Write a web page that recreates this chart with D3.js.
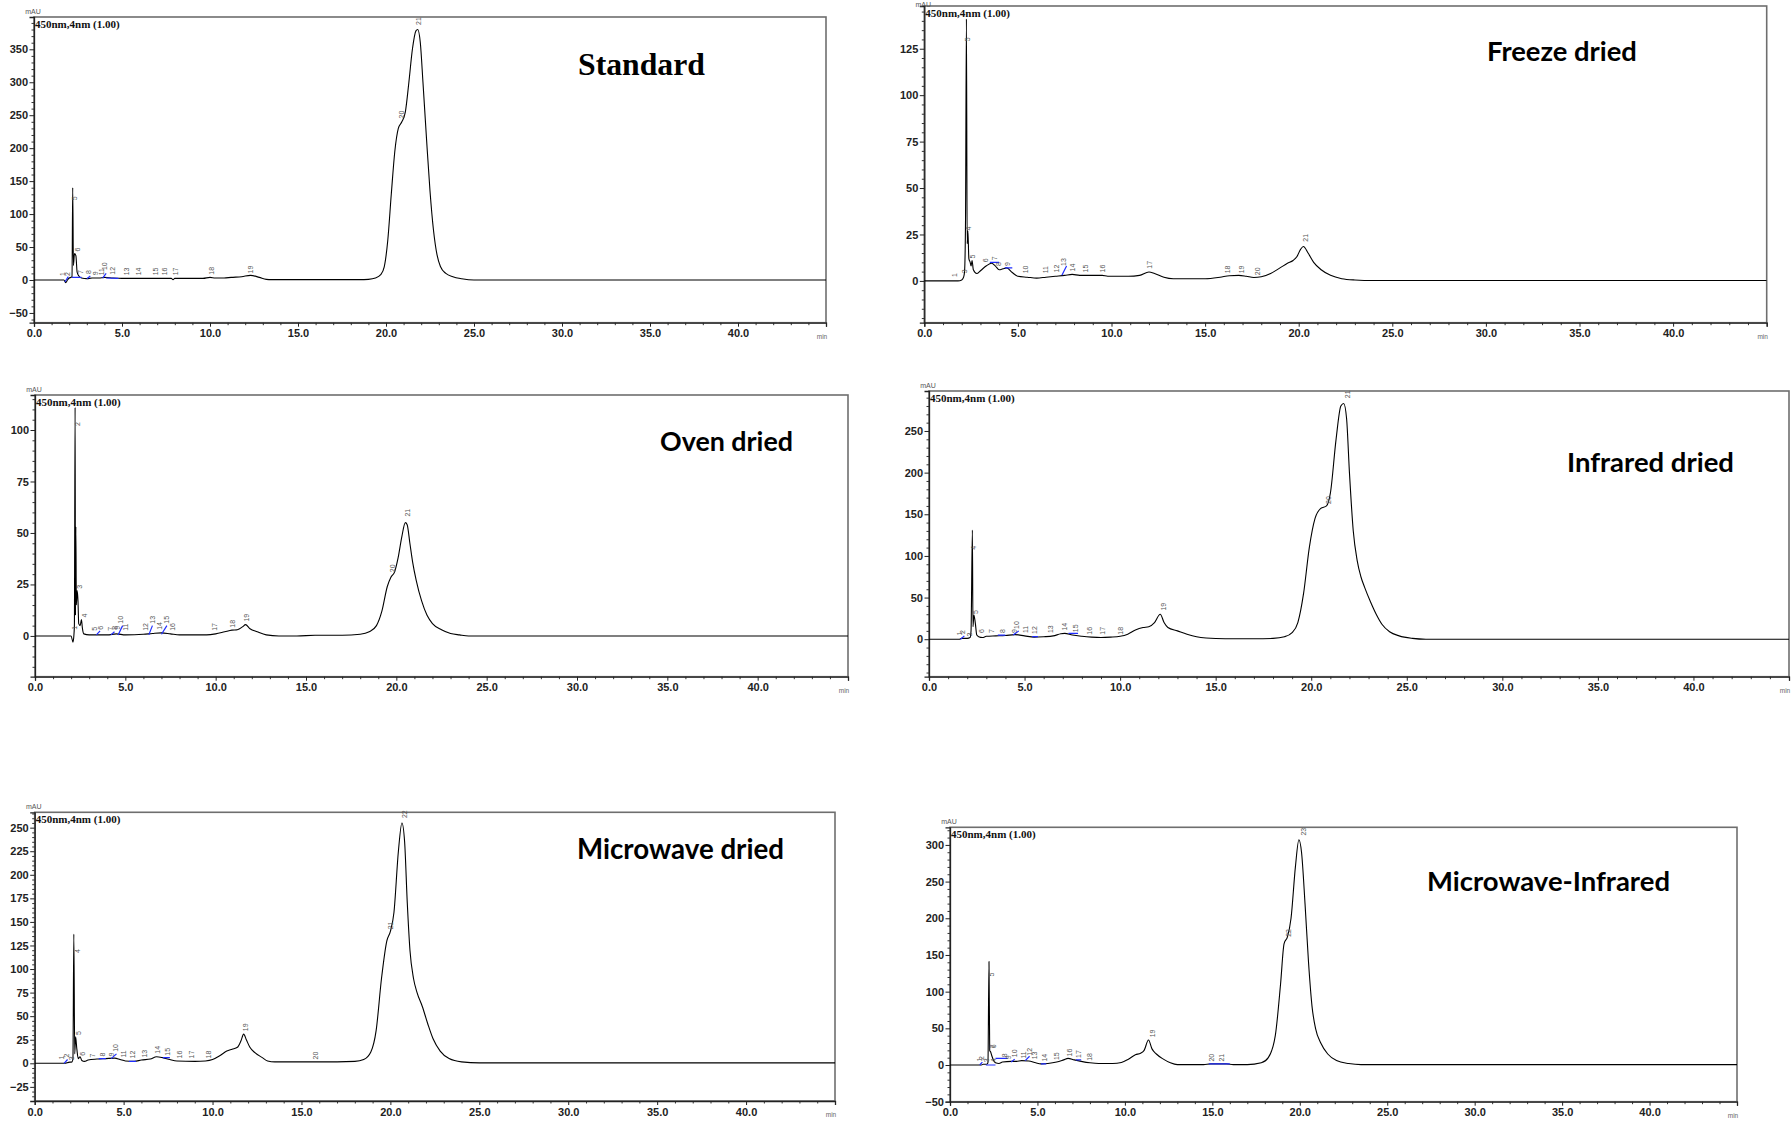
<!DOCTYPE html>
<html>
<head>
<meta charset="utf-8">
<script src="https://cdn.jsdelivr.net/npm/d3@7/dist/d3.min.js"></script>
<style>
  html, body { margin: 0; padding: 0; background: #fff; }
  svg { display: block; }
</style>
</head>
<body>
<script>
// ---------------- DATA ----------------
const timeTicks = [0, 5, 10, 15, 20, 25, 30, 35, 40];
const timeTickLabels = ["0.0", "5.0", "10.0", "15.0", "20.0", "25.0", "30.0", "35.0", "40.0"];
const panelTitles = ["Standard", "Freeze dried", "Oven dried", "Infrared dried", "Microwave dried", "Microwave-Infrared"];
const channelLabel = "450nm,4nm (1.00)";
const unitLabel = "mAU";
const timeUnit = "min";

// y-axis tick values (mAU)
const standardYTicks = [-50, 0, 50, 100, 150, 200, 250, 300, 350];
const freezeYTicks = [0, 25, 50, 75, 100, 125];
const ovenYTicks = [0, 25, 50, 75, 100];
const infraredYTicks = [0, 50, 100, 150, 200, 250];
const microwaveYTicks = [-25, 0, 25, 50, 75, 100, 125, 150, 175, 200, 225, 250];
const mwirYTicks = [-50, 0, 50, 100, 150, 200, 250, 300];

// chromatogram traces: [time (min), absorbance (mAU)]
const standardTrace = [[0,0],[1.7,0],[1.8,-4],[1.9,0],[2.0,3],[2.1,4],[2.16,5],[2.2,140],[2.24,22],[2.3,40],[2.38,37],[2.45,12],[2.55,6],[2.7,3],[3.0,2],[3.3,3],[3.7,3],[4.0,4],[4.5,3],[5,2.5],[6,2.5],[7,2.5],[7.8,2.5],[7.9,0.5],[8.0,2.5],[9.6,2.5],[10.0,4],[10.3,3],[10.8,3],[11.2,4],[11.8,5],[12.3,7],[12.8,4],[13.2,1],[13.5,0.5],[18.5,0.5],[19.0,1],[19.4,3],[19.7,8],[19.9,20],[20.1,60],[20.3,130],[20.5,195],[20.7,230],[20.9,240],[21.1,255],[21.3,300],[21.5,350],[21.7,378],[21.8,380],[21.95,360],[22.1,300],[22.3,215],[22.5,135],[22.7,75],[22.9,38],[23.1,20],[23.4,10],[23.8,5],[24.3,2],[25,0],[45,0]];
const freezeTrace = [[0,0],[1.8,0],[2.0,0.5],[2.1,2],[2.15,5],[2.2,30],[2.25,141],[2.29,20],[2.33,27],[2.38,12],[2.45,10],[2.5,8],[2.55,11],[2.62,6],[2.8,4],[3.0,5.5],[3.3,8],[3.6,9.5],[3.8,8],[4.0,6],[4.2,6.5],[4.4,7],[4.7,4.5],[5.0,2.5],[5.5,2],[6.0,1.5],[6.5,2],[7.0,2.5],[7.5,3],[7.9,3.5],[8.3,3],[9.5,3],[9.8,2.5],[10.9,2.5],[11.5,3],[12.0,4.8],[12.3,4],[12.8,2],[13.3,1.2],[15.0,1.2],[15.8,2],[16.3,2.8],[16.8,3],[17.2,2.5],[17.6,1.8],[18.0,2.2],[18.5,4],[19.0,7],[19.4,9.5],[19.7,11],[19.9,13],[20.1,17],[20.25,18.5],[20.5,15],[20.8,10],[21.2,6],[21.7,3],[22.3,1.2],[23.0,0.5],[24,0.2],[45,0.2]];
const ovenTrace = [[0,0],[2.0,0],[2.1,-3],[2.15,0],[2.18,5],[2.22,111],[2.24,10],[2.26,53],[2.29,15],[2.33,22],[2.38,17],[2.42,6],[2.5,5],[2.57,8],[2.62,4],[2.7,1],[3.0,0.5],[4,0.5],[4.5,1],[5,0.5],[6,0.8],[6.5,1.2],[7,1.5],[7.5,1],[8,0.5],[9.5,0.5],[10,1],[10.5,2],[10.9,2.8],[11.2,3],[11.5,4.5],[11.65,5.5],[11.9,3.5],[12.3,2],[12.8,0.5],[13.5,0],[14.5,0],[15.5,0.3],[17,0.3],[18,0.8],[18.5,2],[18.9,5],[19.2,12],[19.5,24],[19.7,28.5],[19.9,31],[20.1,38],[20.3,48],[20.5,55],[20.6,54],[20.75,45],[20.9,36],[21.1,27],[21.4,17],[21.7,10],[22.0,6],[22.5,3],[23,1.2],[23.5,0.5],[24,0],[45,0]];
const infraredTrace = [[0,0],[1.6,0],[1.7,1],[2.0,1],[2.15,2],[2.2,10],[2.27,131],[2.3,15],[2.35,29],[2.42,20],[2.5,5],[2.6,3],[2.8,2],[3.0,3.5],[3.5,4],[4.0,4.5],[4.5,5.5],[5.0,4],[5.5,2.5],[6.0,3],[6.5,4],[6.9,6.5],[7.1,7],[7.5,5],[8.0,3.5],[8.5,2.5],[9.0,2],[9.5,2.5],[10.0,3.5],[10.4,6],[10.8,11],[11.2,14],[11.5,15],[11.8,20],[12.1,30],[12.3,20],[12.5,14],[13.0,10],[13.5,6],[14.0,3],[14.5,1.5],[15.5,0.5],[17,0.5],[18,1],[18.6,3],[19,8],[19.3,20],[19.6,55],[19.9,110],[20.2,145],[20.5,157],[20.8,160],[21.0,175],[21.3,240],[21.55,280],[21.7,283],[21.85,265],[22.0,200],[22.2,130],[22.4,95],[22.6,75],[22.8,62],[23.1,45],[23.4,30],[23.7,18],[24.1,9],[24.6,4],[25.3,1],[26,0],[45,0]];
const microwaveTrace = [[0,0],[1.7,0],[1.9,1],[2.1,1.5],[2.15,5],[2.2,137],[2.25,10],[2.3,28],[2.37,15],[2.45,5],[2.55,7],[2.65,3],[2.8,2],[3.0,3.5],[3.5,4.5],[4.0,5],[4.5,5.5],[4.8,4],[5.1,2.5],[5.6,2],[6.0,3.5],[6.5,4.5],[6.85,7],[7.2,6],[7.6,4],[8.0,2.5],[9.0,2],[9.6,2.5],[10.0,4],[10.4,8],[10.8,13],[11.1,15],[11.4,17],[11.6,24],[11.75,31],[11.9,25],[12.1,17],[12.4,11],[12.8,6],[13.1,2.5],[13.5,1.5],[16,1.5],[17,1.5],[18,2],[18.5,4],[18.9,12],[19.2,35],[19.5,90],[19.8,130],[20.0,140],[20.2,160],[20.45,225],[20.65,255],[20.8,235],[20.95,170],[21.1,120],[21.3,90],[21.5,75],[21.8,60],[22.1,42],[22.4,26],[22.8,13],[23.3,5],[24,1.5],[25,0.5],[45,0.5]];
const mwirTrace = [[0,0],[1.8,0],[1.9,1],[2.1,1],[2.17,3],[2.23,141],[2.27,20],[2.32,18],[2.4,12],[2.5,6],[2.6,3],[2.8,2],[3.0,4],[3.5,5],[3.8,5],[4.1,6],[4.5,5.5],[4.9,3],[5.2,1.5],[5.6,2],[6.1,4],[6.5,7],[6.75,9],[7.1,7],[7.5,5],[8.0,3],[8.5,2],[9.3,2],[9.8,3.5],[10.2,8],[10.6,14],[10.9,16],[11.1,20],[11.35,34],[11.55,22],[11.8,15],[12.2,8],[12.6,3],[13.0,0.5],[14.5,0.5],[14.9,1.5],[15.8,1.5],[16.2,0.5],[17,0.5],[17.8,3],[18.2,10],[18.6,40],[18.9,110],[19.1,165],[19.3,175],[19.5,200],[19.75,270],[19.95,307],[20.1,290],[20.3,220],[20.5,140],[20.7,80],[20.9,50],[21.2,30],[21.6,15],[22.1,6],[22.8,2],[23.5,0.5],[45,0.5]];

// peak numbers: [time, label, mAU at label foot]
const standardPeaks = [[1.6,"1",3],[1.9,"2",3],[2.3,"5",118],[2.45,"6",40],[2.65,"7",6],[3.1,"8",6],[3.5,"9",4],[3.85,"11",4],[4.0,"10",12],[4.45,"12",5],[5.25,"13",4],[5.95,"14",4],[6.9,"15",4],[7.4,"16",4],[8.05,"17",4],[10.1,"18",5],[12.3,"19",7],[20.9,"20",242],[21.85,"21",384]];
const freezePeaks = [[1.6,"1",1],[2.17,"3",3],[2.3,"5",128],[2.36,"4",26],[2.55,"5",11],[3.25,"6",9],[3.75,"7",10],[3.97,"8",7],[4.47,"9",7],[5.4,"10",3],[6.5,"11",3],[7.07,"12",3.5],[7.45,"13",7],[7.9,"14",4],[8.6,"15",3.5],[9.5,"16",3.5],[12.05,"17",5.5],[16.2,"18",3],[16.95,"19",3],[17.8,"20",2],[20.37,"21",20]];
const ovenPeaks = [[2.17,"1",2],[2.37,"2",101],[2.46,"3",22],[2.72,"4",8],[3.3,"5",1.5],[3.6,"6",2],[4.2,"7",1.5],[4.4,"8",2],[4.54,"9",2],[4.72,"10",5],[5.0,"11",1.5],[6.1,"12",1.5],[6.48,"13",5],[6.9,"14",2],[7.26,"15",5],[7.6,"16",1.5],[9.94,"17",1.5],[10.93,"18",3],[11.72,"19",6],[19.8,"20",30],[20.6,"21",57]];
const infraredPeaks = [[1.62,"1",2],[1.76,"2",4],[2.14,"3",1],[2.35,"4",105],[2.45,"5",28],[2.75,"6",5],[3.27,"7",5],[3.85,"8",5],[4.46,"9",5],[4.58,"10",10],[5.07,"11",5],[5.54,"12",4],[6.36,"13",5],[7.08,"14",8],[7.64,"15",6],[8.42,"16",3],[9.08,"17",3],[10.04,"18",3],[12.26,"19",32],[20.9,"20",160],[21.9,"21",287]];
const microwavePeaks = [[1.52,"1",2],[1.8,"2",4],[2.08,"3",1],[2.4,"4",115],[2.45,"5",28],[2.7,"6",6],[3.26,"7",4],[3.8,"8",5],[4.33,"9",5],[4.52,"10",10],[5.02,"11",4],[5.51,"12",3],[6.17,"13",4],[6.92,"14",8],[7.46,"15",6],[8.17,"16",3],[8.83,"17",3],[9.77,"18",3],[11.87,"19",32],[15.78,"20",2],[20.0,"21",140],[20.8,"22",258]];
const mwirPeaks = [[1.68,"1",2],[1.81,"2",4],[2.07,"3",1],[2.46,"4",1],[2.38,"5",118],[2.5,"6",20],[2.43,"7",20],[3.09,"8",8],[3.34,"9",5],[3.68,"10",8],[4.19,"11",6],[4.52,"12",10],[4.86,"13",5],[5.4,"14",2],[6.1,"15",4],[6.81,"16",9],[7.35,"17",7],[8.0,"18",3],[11.6,"19",35],[14.96,"20",2],[15.55,"21",2],[19.35,"22",172],[20.2,"23",310]];

// integration baselines drawn in blue: [t1, v1, t2, v2]
const standardBaselines = [[1.75,-3,1.95,5],[2.15,4,2.7,4],[3.0,2,3.2,6],[3.9,3,4.1,10],[4.1,3,4.8,2.5]];
const freezeBaselines = [[3.5,10,4.0,10],[4.3,7,4.7,7],[7.35,3,7.6,8]];
const ovenBaselines = [[3.4,0.5,3.6,2.5],[4.2,0.5,4.4,2],[4.6,0.5,4.85,5],[6.3,0.5,6.5,5],[7.0,0.8,7.3,5]];
const infraredBaselines = [[1.65,0,1.85,4],[3.6,5,4.0,5],[4.4,5,4.7,10],[5.4,3,5.7,3],[7.3,7,7.8,7]];
const microwaveBaselines = [[1.65,0,1.85,4],[3.6,5,4.0,5],[4.3,5,4.6,10],[5.3,2,5.7,2],[7.2,6,7.6,6]];
const mwirBaselines = [[1.7,0,1.85,4],[2.05,0,2.6,0],[2.6,9,3.3,9],[3.5,4,3.7,8],[4.3,6,4.55,12],[5.2,1.5,5.5,1.5],[7.2,7,7.5,7],[14.8,1.5,16,1.5]];

// ---------------- LAYOUT ----------------
const layout = [
  {trace: standardTrace, peaks: standardPeaks, base: standardBaselines, yTicks: standardYTicks, minor: 10, yDom: [-64.8, 399], L: 34, R: 826, T: 17, B: 322.7,
   title: {x: 578, y: 75, w: 127, serif: true}},
  {trace: freezeTrace, peaks: freezePeaks, base: freezeBaselines, yTicks: freezeYTicks, minor: 5, yDom: [-22.5, 148], L: 924.3, R: 1766.7, T: 6, B: 322.7,
   title: {x: 1487, y: 61, w: 150}},
  {trace: ovenTrace, peaks: ovenPeaks, base: ovenBaselines, yTicks: ovenYTicks, minor: 5, yDom: [-19.8, 117], L: 35, R: 848, T: 395, B: 676.7,
   title: {x: 660, y: 451, w: 133}},
  {trace: infraredTrace, peaks: infraredPeaks, base: infraredBaselines, yTicks: infraredYTicks, minor: 10, yDom: [-45, 298], L: 929, R: 1789, T: 391, B: 676.7,
   title: {x: 1567, y: 472, w: 167}},
  {trace: microwaveTrace, peaks: microwavePeaks, base: microwaveBaselines, yTicks: microwaveYTicks, minor: 5, yDom: [-40, 266.3], L: 34.7, R: 835, T: 812.3, B: 1101,
   title: {x: 577, y: 859, w: 207}},
  {trace: mwirTrace, peaks: mwirPeaks, base: mwirBaselines, yTicks: mwirYTicks, minor: 10, yDom: [-50, 324], L: 950, R: 1737, T: 827.3, B: 1101.7,
   title: {x: 1427, y: 891, w: 243}}
];

const W = 1791, H = 1121;
const svg = d3.select("body").append("svg").attr("width", W).attr("height", H)
  .style("font-family", "'Liberation Sans', Arial, sans-serif");
svg.append("rect").attr("width", W).attr("height", H).attr("fill", "#fff");

layout.forEach((p, i) => {
  const g = svg.append("g");
  const x = d3.scaleLinear().domain([0, 45]).range([p.L, p.R]);
  const y = d3.scaleLinear().domain(p.yDom).range([p.B, p.T]);

  // frame
  g.append("rect").attr("x", p.L).attr("y", p.T).attr("width", p.R - p.L).attr("height", p.B - p.T)
    .attr("fill", "none").attr("stroke", "#6e6e6e").attr("stroke-width", 1.6);

  // clip
  const clipId = "clip" + i;
  g.append("clipPath").attr("id", clipId).append("rect")
    .attr("x", p.L).attr("y", p.T).attr("width", p.R - p.L).attr("height", p.B - p.T);

  // minor y ticks
  const yMinor = d3.range(Math.ceil(p.yDom[0] / p.minor) * p.minor, p.yDom[1], p.minor)
    .filter(v => !p.yTicks.includes(v));
  g.append("g").attr("transform", `translate(${p.L},0)`)
    .call(d3.axisLeft(y).tickValues(yMinor).tickSize(2.5).tickFormat(""))
    .call(a => a.select(".domain").remove())
    .call(a => a.selectAll("line").attr("stroke", "#333"));
  // major y ticks
  g.append("g").attr("transform", `translate(${p.L},0)`)
    .call(d3.axisLeft(y).tickValues(p.yTicks).tickSize(4.5).tickPadding(1.5).tickFormat(d3.format("d")))
    .call(a => a.select(".domain").attr("stroke", "#222").attr("stroke-width", 1.3))
    .call(a => a.selectAll("line").attr("stroke", "#222"))
    .call(a => a.selectAll("text").attr("font-size", 11).attr("font-weight", "bold").attr("fill", "#222")
      .attr("font-family", "'Liberation Sans', Arial, sans-serif"));

  // minor x ticks
  const xMinor = d3.range(0, 46, 1).filter(v => v % 5 !== 0);
  g.append("g").attr("transform", `translate(0,${p.B})`)
    .call(d3.axisBottom(x).tickValues(xMinor).tickSize(2.5).tickFormat(""))
    .call(a => a.select(".domain").remove())
    .call(a => a.selectAll("line").attr("stroke", "#333"));
  g.append("g").attr("transform", `translate(0,${p.B})`)
    .call(d3.axisBottom(x).tickValues(timeTicks.concat([45])).tickSize(4).tickPadding(3)
      .tickFormat(d => { const k = timeTicks.indexOf(d); return k >= 0 ? timeTickLabels[k] : ""; }))
    .call(a => a.select(".domain").attr("stroke", "#222").attr("stroke-width", 1.3))
    .call(a => a.selectAll("line").attr("stroke", "#222"))
    .call(a => a.selectAll("text").attr("font-size", 11).attr("font-weight", "bold").attr("fill", "#222")
      .attr("font-family", "'Liberation Sans', Arial, sans-serif"));

  // unit labels
  g.append("text").attr("x", p.L - 1).attr("y", Math.max(p.T - 3, 6.5)).attr("text-anchor", "middle")
    .attr("font-size", 7).attr("fill", "#555").text(unitLabel);
  g.append("text").attr("x", x(45) - 4).attr("y", p.B + 16).attr("text-anchor", "middle")
    .attr("font-size", 6.5).attr("fill", "#666").text(timeUnit);
  g.append("text").attr("x", p.L + 1).attr("y", p.T + 10.5)
    .attr("font-family", "'Liberation Serif', 'Times New Roman', serif").attr("font-weight", "bold")
    .attr("font-size", 11).attr("fill", "#111").text(channelLabel);

  // trace
  const line = d3.line().x(d => x(d[0])).y(d => y(d[1])).curve(d3.curveMonotoneX);
  const plot = g.append("g").attr("clip-path", `url(#${clipId})`);
  plot.append("path").datum(p.trace).attr("d", line)
    .attr("fill", "none").attr("stroke", "#000").attr("stroke-width", 1.1).attr("stroke-linejoin", "round");

  // integration baselines
  plot.selectAll("line.bl").data(p.base).enter().append("line")
    .attr("x1", d => x(d[0])).attr("y1", d => y(d[1]))
    .attr("x2", d => x(d[2])).attr("y2", d => y(d[3]))
    .attr("stroke", "#1f2cff").attr("stroke-width", 1.2);

  // peak numbers
  g.selectAll("text.pk").data(p.peaks).enter().append("text")
    .attr("transform", d => `translate(${x(d[0]) + 2.5},${y(d[2]) - 2}) rotate(-90)`)
    .attr("font-size", 7).attr("fill", "#555").text(d => d[1]);

  // title
  const t = g.append("text").attr("x", p.title.x).attr("y", p.title.y)
    .attr("font-weight", "bold").attr("fill", "#000")
    .attr("font-family", p.title.serif ? "'Liberation Serif', 'Times New Roman', serif" : "Lato, 'Open Sans', sans-serif")
    .attr("font-size", p.title.serif ? 31 : 26)
    .text(panelTitles[i]);
  const w = t.node().getComputedTextLength();
  const fs = (p.title.serif ? 31 : 26) * p.title.w / w;
  t.attr("font-size", fs);
});
</script>
</body>
</html>
